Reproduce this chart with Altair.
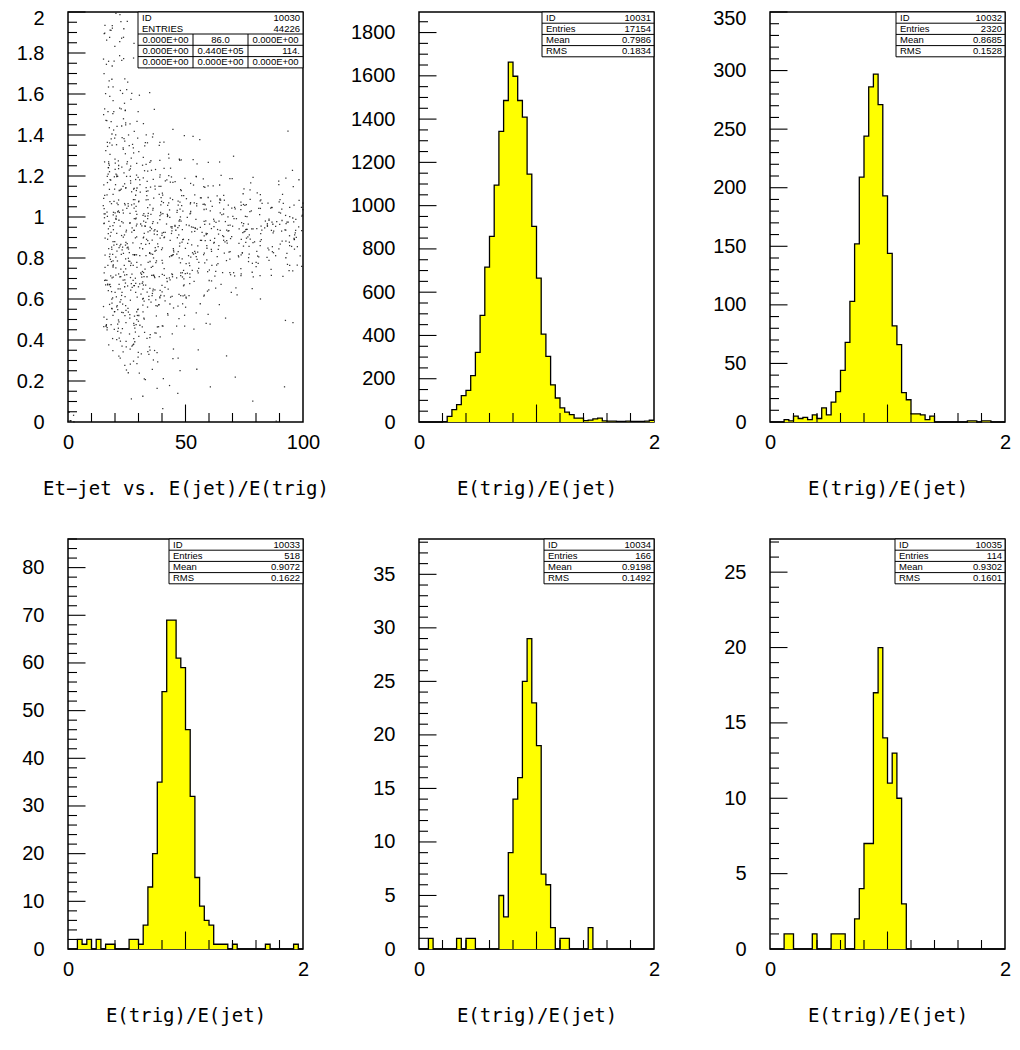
import altair as alt
import pandas as pd

# ---------------- data ----------------
# 1-D histograms: 50 bins on [0, 2]
h10031 = [0, 0, 0, 0, 0, 2, 26, 57, 80, 122, 146, 214, 322, 493, 716, 858, 1095, 1343, 1486, 1663,
          1598, 1486, 1409, 1146, 904, 665, 406, 303, 172, 111, 65, 46, 34, 18, 18, 6, 9, 14, 18, 5,
          4, 4, 3, 3, 4, 3, 3, 3, 4, 8]
h10032 = [0, 0, 0, 2, 1, 5, 3, 4, 2, 6, 3, 12, 6, 17, 26, 44, 68, 103, 152, 209,
          244, 286, 297, 271, 193, 144, 82, 66, 25, 19, 7, 7, 6, 2, 5, 0, 0, 0, 0, 0,
          0, 0, 1, 1, 0, 1, 1, 0, 0, 0]
h10033 = [0, 0, 2, 1, 2, 0, 2, 0, 1, 1, 0, 0, 0, 2, 2, 1, 5, 13, 20, 35,
          54, 69, 69, 61, 59, 46, 32, 15, 9, 6, 5, 1, 1, 1, 0, 1, 0, 0, 0, 0,
          0, 0, 1, 0, 0, 0, 0, 0, 1, 0]
h10034 = [0, 0, 1, 0, 0, 0, 0, 0, 1, 0, 1, 1, 0, 0, 0, 0, 0, 5, 3, 9,
          14, 16, 25, 29, 23, 19, 7, 6, 2, 0, 1, 1, 0, 0, 0, 0, 2, 0, 0, 0,
          0, 0, 0, 0, 0, 0, 0, 0, 0, 0]
h10035 = [0, 0, 0, 1, 1, 0, 0, 0, 0, 1, 0, 0, 0, 1, 1, 1, 0, 0, 2, 4,
          7, 7, 17, 20, 14, 11, 13, 10, 3, 0, 0, 0, 0, 0, 0, 0, 0, 0, 0, 0,
          0, 0, 0, 0, 0, 0, 0, 0, 0, 0]

hist_ids = ["10031", "10032", "10033", "10034", "10035"]
hist_entries = ["17154", "2320", "518", "166", "114"]
hist_means = ["0.7986", "0.8685", "0.9072", "0.9198", "0.9302"]
hist_rms = ["0.1834", "0.1528", "0.1622", "0.1492", "0.1601"]
hist_counts = [h10031, h10032, h10033, h10034, h10035]
hist_ymax = [1895, 350, 86, 38.3, 27.2]
hist_ymajor = [200, 50, 10, 5, 5]
hist_yminor = [50, 10, 2, 1, 1]

# 2-D scatter (Et-jet vs ratio): dots per cell, cells 5 wide in x, 0.1 tall in y
sc_x0 = [0, 5, 10, 15, 20, 25, 30, 35, 40, 45, 50, 55, 60, 65, 70, 75, 80, 85, 90, 95]
sc_y0 = [1.9, 1.8, 1.7, 1.6, 1.5, 1.4, 1.3, 1.2, 1.1, 1.0,
         0.9, 0.8, 0.7, 0.6, 0.5, 0.4, 0.3, 0.2, 0.1, 0.0]
sc_dots = [
    [0, 0, 0, 5, 4, 1, 0, 0, 0, 0, 0, 0, 0, 0, 0, 0, 0, 0, 0, 0],
    [0, 0, 0, 5, 3, 1, 0, 0, 0, 0, 0, 0, 0, 0, 0, 0, 0, 0, 0, 0],
    [0, 0, 0, 5, 3, 1, 1, 0, 0, 0, 0, 0, 0, 0, 0, 0, 0, 0, 0, 0],
    [0, 0, 0, 6, 4, 2, 1, 0, 0, 0, 0, 0, 0, 0, 0, 0, 0, 0, 0, 0],
    [0, 0, 0, 6, 5, 2, 1, 1, 0, 0, 0, 0, 0, 0, 0, 0, 0, 0, 0, 0],
    [0, 0, 0, 7, 6, 4, 2, 1, 1, 0, 0, 0, 0, 0, 0, 0, 0, 0, 1, 0],
    [0, 0, 0, 8, 7, 5, 4, 3, 2, 1, 1, 1, 0, 0, 0, 0, 0, 0, 0, 0],
    [0, 0, 0, 9, 9, 8, 6, 5, 4, 3, 2, 1, 1, 1, 1, 0, 0, 0, 0, 1],
    [0, 0, 0, 11, 11, 11, 9, 8, 7, 6, 5, 4, 3, 3, 2, 3, 2, 2, 2, 2],
    [0, 0, 0, 12, 12, 12, 11, 10, 10, 9, 9, 8, 8, 7, 7, 7, 6, 6, 7, 7],
    [0, 0, 0, 12, 12, 12, 12, 11, 11, 10, 10, 10, 10, 9, 9, 9, 9, 9, 9, 9],
    [0, 0, 0, 12, 12, 12, 12, 11, 11, 10, 10, 9, 9, 8, 8, 8, 7, 7, 7, 7],
    [0, 0, 0, 12, 12, 12, 11, 10, 10, 9, 8, 7, 6, 5, 5, 4, 4, 3, 4, 3],
    [0, 0, 0, 12, 12, 11, 11, 10, 8, 7, 5, 4, 3, 2, 2, 1, 1, 0, 0, 0],
    [0, 0, 0, 11, 11, 10, 9, 7, 5, 4, 2, 2, 1, 1, 0, 0, 0, 0, 0, 0],
    [0, 0, 0, 9, 10, 9, 7, 5, 3, 2, 1, 1, 1, 0, 0, 0, 0, 0, 1, 1],
    [0, 0, 0, 2, 7, 7, 5, 3, 2, 1, 0, 1, 0, 1, 0, 0, 0, 0, 0, 0],
    [0, 0, 0, 0, 2, 4, 3, 2, 1, 1, 1, 0, 0, 0, 1, 0, 0, 0, 0, 0],
    [0, 0, 0, 0, 0, 1, 1, 1, 1, 1, 0, 0, 1, 0, 0, 1, 0, 0, 1, 0],
    [0, 0, 0, 0, 0, 0, 0, 0, 1, 0, 0, 0, 0, 0, 0, 0, 0, 1, 0, 0],
]
origin_dots = 8  # small cluster in the corner cell [0,3] x [0,0.05]

scatter_id = "10030"
scatter_entries = "44226"
scatter_table = [["0.000E+00", "86.0", "0.000E+00"],
                 ["0.000E+00", "0.440E+05", "114."],
                 ["0.000E+00", "0.000E+00", "0.000E+00"]]

# ---------------- style ----------------
W, H = 235, 410
LABEL_FONT = "Liberation Sans Narrow, Liberation Sans, sans-serif"
TITLE_FONT = "DejaVu Sans Mono"
BOX_FONT = "Liberation Sans Narrow, Liberation Sans, sans-serif"
MAJ, MINR = 17.5, 9
YELLOW = "#ffff00"
ROW_H = 11.2
TITLE_PAD = 27
TOP_LABEL_SHIFT = 6


def frange(a, b, step):
    n = int(round((b - a) / step))
    return [round(a + k * step, 6) for k in range(n + 1)]


axis_common = dict(labelFont=LABEL_FONT, labelFontSize=20, labelColor="black",
                   domain=False, ticks=False, grid=False,
                   labelOverlap=False, labelFlush=False,
                   titleFont=TITLE_FONT, titleFontSize=19, titleFontWeight="normal",
                   titleColor="black")


def y_axis(values, fmt, top):
    # the label sitting exactly on the frame's top edge is nudged down so it stays on the page
    return alt.Axis(values=values, format=fmt, title=None, labelPadding=24,
                    labelOffset={"condition": {"test": f"datum.value >= {top}",
                                               "value": TOP_LABEL_SHIFT}, "value": 0},
                    **axis_common)


def ticks_layers(xs, ys, ax, ay, xmaj, xmin, ymaj, ymin):
    one = lambda vals: pd.DataFrame({"v": vals})
    layers = []
    layers.append(alt.Chart(one(ymaj)).mark_rule(color="black", strokeWidth=1.1).encode(
        y=alt.Y("v:Q", scale=ys, axis=ay), x=alt.value(0), x2=alt.value(MAJ)))
    layers.append(alt.Chart(one(ymin)).mark_rule(color="black", strokeWidth=1.1).encode(
        y=alt.Y("v:Q", scale=ys, axis=ay), x=alt.value(0), x2=alt.value(MINR)))
    layers.append(alt.Chart(one(xmaj)).mark_rule(color="black", strokeWidth=1.1).encode(
        x=alt.X("v:Q", scale=xs, axis=ax), y=alt.value(H), y2=alt.value(H - MAJ)))
    layers.append(alt.Chart(one(xmin)).mark_rule(color="black", strokeWidth=1.1).encode(
        x=alt.X("v:Q", scale=xs, axis=ax), y=alt.value(H), y2=alt.value(H - MINR)))
    return layers


def text_at(x, y, s, align):
    return alt.Chart(pd.DataFrame({"z": [0]})).mark_text(
        align=align, baseline="middle", font=BOX_FONT, fontSize=9.5, color="black").encode(
        x=alt.value(x), y=alt.value(y), text=alt.value(s))


def hline(x1, x2, y):
    return alt.Chart(pd.DataFrame({"z": [0]})).mark_rule(color="black", strokeWidth=1).encode(
        x=alt.value(x1), x2=alt.value(x2), y=alt.value(y))


def vline(x, y1, y2):
    return alt.Chart(pd.DataFrame({"z": [0]})).mark_rule(color="black", strokeWidth=1).encode(
        x=alt.value(x), y=alt.value(y1), y2=alt.value(y2))


def box_rect(x1, x2, y2):
    return alt.Chart(pd.DataFrame({"z": [0]})).mark_rect(
        fill="white", stroke="black", strokeWidth=1).encode(
        x=alt.value(x1), x2=alt.value(x2), y=alt.value(0), y2=alt.value(y2))


def hist_box(bx, rows):
    layers = [box_rect(bx, W, ROW_H * len(rows))]
    for i, (lab, val) in enumerate(rows):
        yc = ROW_H * (i + 0.5)
        layers.append(text_at(bx + 4, yc, lab, "left"))
        layers.append(text_at(W - 3, yc, val, "right"))
        if i < len(rows) - 1:
            layers.append(hline(bx, W, ROW_H * (i + 1)))
    return layers


# ---------------- scatter panel ----------------
cells = []
for r, y0 in enumerate(sc_y0):
    for c, x0 in enumerate(sc_x0):
        n = sc_dots[r][c]
        if n > 0:
            cells.append({"x0": x0, "y0": y0, "w": 5, "h": 0.1, "n": n})
cells.append({"x0": 0, "y0": 0, "w": 3, "h": 0.05, "n": origin_dots})
cells_df = pd.DataFrame(cells)

xs1 = alt.Scale(domain=[0, 100], nice=False, zero=False)
ys1 = alt.Scale(domain=[0, 2], nice=False, zero=False)
ax1 = alt.Axis(values=[0, 50, 100], format="d", title="Et\u2212jet vs. E(jet)/E(trig)",
               labelPadding=10, titlePadding=TITLE_PAD, **axis_common)
ay1 = y_axis(frange(0, 2, 0.2), "~g", 2)

scatter = alt.Chart(cells_df).transform_calculate(
    k="sequence(0, datum.n)"
).transform_flatten(["k"]).transform_calculate(
    px="datum.x0 + random() * datum.w",
    py="datum.y0 + random() * datum.h",
).mark_square(size=1.6, color="#111111", opacity=0.85).encode(
    x=alt.X("px:Q", scale=xs1, axis=ax1),
    y=alt.Y("py:Q", scale=ys1, axis=ay1),
)

p1_layers = [scatter] + ticks_layers(
    xs1, ys1, ax1, ay1, [50], [v for v in frange(0, 100, 10) if v % 50],
    frange(0.2, 2.0, 0.2), [v for v in frange(0.05, 2.0, 0.05) if round(v / 0.2, 6) % 1])

bx1 = 70
cw = (W - bx1) / 3.0
box1 = [box_rect(bx1, W, 2 * 11 + 3 * 11.3)]
box1.append(text_at(bx1 + 4, 5.5, "ID", "left"))
box1.append(text_at(W - 3, 5.5, scatter_id, "right"))
box1.append(text_at(bx1 + 4, 16.5, "ENTRIES", "left"))
box1.append(text_at(W - 3, 16.5, scatter_entries, "right"))
for i, row in enumerate(scatter_table):
    ytop = 22 + 11.3 * i
    box1.append(hline(bx1, W, ytop))
    for j, s in enumerate(row):
        if j == 2 and i == 1:
            box1.append(text_at(bx1 + cw * 3 - 3, ytop + 5.65, s, "right"))
        else:
            box1.append(text_at(bx1 + cw * (j + 0.5), ytop + 5.65, s, "center"))
box1.append(vline(bx1 + cw, 22, 22 + 3 * 11.3))
box1.append(vline(bx1 + 2 * cw, 22, 22 + 3 * 11.3))

panel1 = alt.layer(*p1_layers, *box1).properties(width=W, height=H)

# ---------------- histogram panels ----------------
edges = [round(i * 0.04, 4) for i in range(51)]
box_left = [123, 126, 101, 125, 125]
panels = [panel1]
for k in range(5):
    counts = hist_counts[k]
    df = pd.DataFrame({"e": edges, "c": counts + [counts[-1]]})
    xs = alt.Scale(domain=[0, 2], nice=False, zero=False)
    ys = alt.Scale(domain=[0, hist_ymax[k]], nice=False, zero=True)
    maj = hist_ymajor[k]
    mn = hist_yminor[k]
    top = int(hist_ymax[k] // maj) * maj
    ylabels = list(range(0, int(top) + 1, maj))
    ax = alt.Axis(values=[0, 1, 2], format="d", title="E(trig)/E(jet)", labelPadding=10,
                  titlePadding=TITLE_PAD, **axis_common)
    ay = y_axis(ylabels, "d", hist_ymax[k])
    base = alt.Chart(df)
    area = base.mark_area(interpolate="step-after", color=YELLOW, opacity=1).encode(
        x=alt.X("e:Q", scale=xs, axis=ax), y=alt.Y("c:Q", scale=ys, axis=ay))
    line = base.mark_line(interpolate="step-after", color="black", strokeWidth=1.3).encode(
        x=alt.X("e:Q", scale=xs, axis=ax), y=alt.Y("c:Q", scale=ys, axis=ay))
    yminor = [v for v in range(mn, int(hist_ymax[k]) + 1, mn) if v % maj]
    tl = ticks_layers(xs, ys, ax, ay, [1], [0.2, 0.4, 0.6, 0.8, 1.2, 1.4, 1.6, 1.8],
                      ylabels[1:], yminor)
    rows = [("ID", hist_ids[k]), ("Entries", hist_entries[k]),
            ("Mean", hist_means[k]), ("RMS", hist_rms[k])]
    bl = hist_box(box_left[k], rows)
    panels.append(alt.layer(area, line, *tl, *bl).properties(width=W, height=H))

chart = alt.concat(*panels, columns=3, spacing={"column": 116, "row": 117},
                   bounds="flush").properties(
    padding={"left": 7, "top": -1, "right": 0, "bottom": 0},
    background="white",
).configure_view(stroke="black", strokeWidth=1.5)

chart.save("out.html", embed_options={"renderer": "svg", "actions": False})
